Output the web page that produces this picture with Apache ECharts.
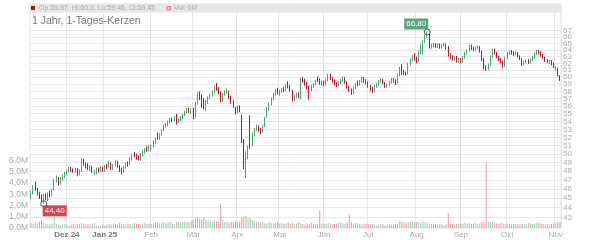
<!DOCTYPE html>
<html><head><meta charset="utf-8">
<script src="https://cdn.jsdelivr.net/npm/echarts@6/dist/echarts.min.js"></script>
<style>html,body{margin:0;padding:0;background:#fff}#c{width:600px;height:240px}</style>
</head><body><div id="c"></div>
<script>
// ---- categories: trading days (weekdays minus exchange holidays) ----
const holidays = ['2024-12-24','2024-12-25','2024-12-26','2024-12-31','2025-01-01','2025-04-18','2025-04-21','2025-05-01'];
function tradingDays(s, e, hol) {
  const out = [];
  const d = new Date(s + 'T12:00:00Z'), end = new Date(e + 'T12:00:00Z');
  while (d <= end) {
    const w = d.getUTCDay(), iso = d.toISOString().slice(0, 10);
    if (w !== 0 && w !== 6 && hol.indexOf(iso) < 0) out.push(iso);
    d.setUTCDate(d.getUTCDate() + 1);
  }
  return out;
}
const dates = tradingDays('2024-11-07', '2025-11-05', holidays);
const monthNames = ['Jan','Feb','Mär','Apr','Mai','Jun','Jul','Aug','Sep','Okt','Nov','Dez'];

// ---- series values (EUR), month by month ----
const open = [
 45.1,45.6,46.6,46.0,45.5,45.2,44.9,45.3,45.0,45.5,45.3,45.9,46.9,47.2,46.6,47.1,47.4,
 47.7,47.9,48.3,48.1,48.0,48.2,47.6,48.0,49.2,48.8,48.7,48.3,48.5,47.8,47.9,48.2,48.0,48.4,
 48.1,48.5,48.5,48.9,48.3,48.6,49.1,48.6,48.2,47.9,48.5,48.9,48.8,49.4,50.1,49.8,49.6,49.5,49.9,50.2,50.6,50.5,
 50.6,50.9,51.4,52.4,51.9,52.3,52.9,53.4,53.6,53.9,54.3,54.1,54.9,54.0,54.2,54.5,54.9,55.2,55.6,55.3,
 55.6,54.8,56.4,57.8,57.4,56.6,55.9,56.6,57.1,57.5,57.9,59.0,58.4,57.9,56.8,57.6,57.9,57.9,57.2,56.6,55.6,
 55.4,55.9,54.7,51.6,47.6,49.8,54.5,51.2,52.4,53.0,53.3,53.0,52.7,53.4,54.6,55.6,56.3,57.0,57.6,58.1,
 57.8,58.0,58.3,58.2,59.1,58.6,58.0,56.9,57.3,57.6,57.1,59.7,59.5,59.1,58.6,58.2,58.7,59.0,59.9,59.6,59.1,
 59.3,59.0,59.6,60.3,59.8,59.5,59.0,58.9,59.2,59.6,59.9,59.3,58.6,58.2,57.8,58.5,59.3,59.0,59.4,59.8,59.5,
 59.2,58.7,58.4,58.0,58.7,59.0,59.4,59.6,59.2,58.7,58.9,59.3,59.7,59.5,59.2,60.3,61.7,60.9,60.6,60.5,61.9,62.5,63.3,
 62.7,62.4,63.7,64.7,65.3,66.2,66.4,64.5,64.7,64.9,64.6,64.8,64.5,64.7,64.9,64.4,63.3,63.0,62.7,62.9,62.4,
 62.6,62.3,62.9,63.5,63.9,64.6,64.3,64.1,64.3,64.5,63.8,62.6,61.4,61.2,61.8,63.0,64.0,63.5,63.0,62.6,62.3,61.6,
 62.8,63.5,63.9,63.6,63.4,63.6,63.1,62.7,61.9,62.2,62.4,62.2,62.5,62.9,63.4,63.9,63.6,63.2,62.9,62.4,62.1,62.3,61.9,
 61.1,61.2,59.97
];
const close = [
 45.6,46.2,46.0,45.5,45.2,44.9,45.3,45.0,45.5,45.3,45.9,46.9,47.3,46.6,47.1,47.4,47.7,
 47.9,48.3,48.1,48.0,48.2,47.6,48.0,49.3,48.8,48.6,48.3,48.5,48.0,47.9,48.2,48.0,48.4,48.1,
 48.5,48.4,48.9,48.3,48.6,49.1,48.6,48.2,47.9,48.5,48.9,48.8,49.4,49.8,49.8,49.6,49.5,49.9,50.2,50.6,50.5,50.8,
 50.9,51.4,51.8,51.9,52.3,52.9,53.4,53.6,53.9,54.3,54.1,54.5,54.0,54.2,54.5,54.9,55.2,55.6,55.3,55.5,
 54.8,56.4,57.7,57.3,56.2,55.9,56.6,57.1,57.5,57.9,58.6,58.4,57.9,56.8,57.6,57.9,58.1,57.3,56.6,56.1,55.4,
 55.9,55.6,51.8,48.6,49.5,50.6,51.0,52.4,53.0,53.3,53.0,52.7,53.4,54.4,55.6,56.3,57.0,57.6,58.1,57.8,
 58.0,58.3,58.2,58.8,58.6,58.3,56.9,57.3,57.6,57.4,59.7,59.5,59.1,58.6,58.2,58.7,59.0,59.4,59.6,59.1,59.3,
 59.0,59.6,60.3,59.8,59.5,59.0,58.9,59.2,59.6,59.9,59.3,58.6,58.2,57.8,58.5,59.0,59.0,59.4,59.8,59.5,59.2,
 58.7,58.4,58.0,58.7,59.0,59.4,59.6,59.2,58.7,58.9,59.3,59.7,59.5,59.2,60.3,61.3,60.5,60.6,60.5,61.9,62.5,63.0,62.7,
 62.4,63.7,64.7,65.3,66.2,66.4,64.5,64.7,64.9,64.6,64.8,64.5,64.7,64.9,64.4,63.3,63.0,62.7,62.9,62.4,62.6,
 62.3,62.9,63.5,63.9,64.6,64.3,64.1,64.3,64.5,63.8,62.6,61.4,61.2,61.8,63.0,64.0,63.5,63.0,62.6,62.3,61.6,62.8,
 63.5,63.7,63.6,63.4,63.6,63.1,62.7,61.9,62.2,62.4,62.2,62.5,62.9,63.4,63.8,63.6,63.2,62.9,62.4,62.3,62.3,61.9,61.6,
 61.4,60.3,59.45
];
const low = [
 44.9,45.4,45.8,45.3,44.9,44.6,44.4,44.8,44.7,45.1,45.2,45.8,46.7,46.4,46.5,46.9,47.2,
 47.5,47.8,47.9,47.8,47.8,47.4,47.5,47.9,48.6,48.3,48.1,48.0,47.8,47.5,47.6,47.8,47.9,47.9,
 47.9,48.2,48.4,48.1,48.1,48.5,48.4,47.9,47.6,47.8,48.3,48.5,48.7,49.2,49.6,49.3,49.2,49.2,49.7,50.0,50.2,50.3,
 50.3,50.8,51.2,51.7,51.7,52.2,52.8,53.2,53.4,53.7,53.9,54.0,53.6,53.8,54.0,54.3,54.7,55.0,55.1,55.0,
 54.3,54.5,56.2,56.8,55.8,55.6,55.4,56.3,56.9,57.3,57.8,58.1,57.6,56.5,56.6,57.4,57.7,57.0,56.3,55.8,54.9,
 55.1,55.2,51.3,48.2,47.2,49.4,50.6,50.9,52.1,52.8,52.7,52.4,52.6,53.3,54.5,55.4,56.1,56.8,57.4,57.6,
 57.4,57.8,57.9,58.0,58.4,58.0,56.6,56.7,57.1,57.1,56.9,59.2,58.8,58.3,56.9,58.0,58.5,58.8,59.3,58.9,58.8,
 58.7,58.8,59.4,59.6,59.2,58.8,58.6,58.7,59.0,59.4,59.1,58.4,57.9,57.5,57.6,58.3,58.7,58.8,59.2,59.2,59.0,
 58.5,58.1,57.8,57.9,58.5,58.8,59.2,59.0,58.5,58.5,58.7,59.1,59.2,58.9,59.1,60.1,60.3,60.3,60.2,60.4,61.7,62.3,62.4,
 62.0,62.2,63.4,63.3,65.1,65.9,64.2,64.2,64.4,64.3,64.3,64.2,64.2,64.5,64.1,63.0,62.7,62.4,62.4,62.1,62.1,
 62.0,62.1,62.7,63.3,63.7,64.0,63.8,63.9,64.1,63.6,62.3,61.1,60.9,61.0,61.6,62.8,63.3,62.8,62.3,62.0,61.3,61.5,
 62.6,63.3,63.3,63.1,63.2,62.9,62.5,61.6,61.7,62.0,61.9,62.0,62.3,62.7,63.2,63.3,63.0,62.7,62.2,62.0,61.9,61.7,61.3,
 60.9,60.1,59.45
];
const high = [
 45.8,46.4,46.8,46.1,45.7,45.4,45.5,45.5,45.6,45.8,46.0,47.1,47.5,47.3,47.3,47.6,47.9,
 48.1,48.5,48.5,48.3,48.4,48.3,48.2,49.5,49.4,49.0,48.9,48.7,48.6,48.1,48.4,48.4,48.6,48.5,
 48.7,48.8,49.1,49.0,48.8,49.3,49.2,48.7,48.4,48.6,49.0,49.1,49.6,50.0,50.2,50.0,49.8,50.1,50.4,50.7,50.9,51.0,
 51.1,51.6,52.0,52.6,52.5,53.0,53.6,53.8,54.1,54.5,54.5,54.7,55.0,54.4,54.7,55.0,55.4,55.8,55.8,55.7,
 55.8,56.6,57.9,58.0,57.6,57.1,56.8,57.3,57.7,58.1,58.8,59.2,58.6,58.0,57.8,58.1,58.4,58.1,57.4,56.8,55.9,
 56.1,56.1,54.9,51.8,50.3,51.0,54.8,52.6,53.2,53.6,53.5,53.2,53.6,54.6,55.9,56.5,57.2,57.8,58.3,58.5,
 58.2,58.5,58.6,59.0,59.4,58.9,58.2,57.5,57.8,57.9,59.9,60.0,59.8,59.3,58.8,58.9,59.2,59.6,60.1,59.8,59.5,
 59.5,59.8,60.5,60.5,60.0,59.7,59.3,59.4,59.8,60.1,60.0,59.4,58.8,58.4,58.7,59.2,59.5,59.6,60.0,60.0,59.7,
 59.4,58.9,58.6,58.9,59.2,59.6,59.8,59.8,59.3,59.1,59.5,59.9,59.9,59.7,60.5,61.5,61.9,61.1,60.8,62.1,62.7,63.2,63.5,
 63.0,63.9,64.9,65.5,66.4,66.8,66.5,64.9,65.1,65.1,65.0,65.0,64.9,65.1,65.0,64.6,63.5,63.2,63.1,63.1,62.8,
 62.8,63.1,63.7,64.1,64.8,64.8,64.5,64.5,64.7,64.6,63.9,62.8,61.7,62.0,63.2,64.2,64.2,63.7,63.1,62.8,62.4,63.0,
 63.7,63.9,64.0,63.8,63.8,63.7,63.2,62.8,62.4,62.6,62.6,62.7,63.1,63.6,64.0,64.0,63.8,63.4,63.0,62.6,62.5,62.5,62.1,
 61.6,61.4,60.3
];
// volume in millions
const volume = [
 0.45,0.35,0.5,0.4,0.55,0.7,0.45,0.35,0.3,0.3,0.4,1.0,0.35,0.3,0.25,0.3,0.35,
 0.3,0.25,0.3,0.35,0.3,0.4,0.35,0.45,0.4,0.3,0.35,0.3,0.4,0.45,0.25,0.15,0.2,0.3,
 0.25,0.3,0.35,0.3,0.4,0.35,0.3,0.45,0.4,0.35,0.3,0.4,0.35,0.3,0.45,0.4,0.35,0.3,0.4,0.45,0.35,0.4,
 0.35,0.4,0.45,0.5,0.4,0.45,0.5,0.4,0.45,0.5,0.4,0.35,0.5,0.55,0.45,0.5,0.6,0.55,0.5,0.65,
 0.7,0.85,1.0,0.8,0.75,0.9,0.7,0.6,0.65,0.55,0.7,0.6,0.55,2.15,0.7,0.55,0.5,0.45,0.55,0.5,0.6,
 0.5,0.55,0.9,1.0,1.1,0.85,0.9,0.7,0.6,0.55,0.5,0.45,0.5,0.45,0.4,0.5,0.45,0.4,0.45,0.5,
 0.4,0.45,0.35,0.4,0.5,0.4,0.45,0.35,0.4,0.5,0.45,0.35,0.3,0.4,0.35,0.45,0.4,0.3,0.35,1.57,0.4,
 0.4,0.35,0.45,0.4,0.3,0.35,0.4,0.45,0.5,0.4,0.35,0.45,1.2,0.5,0.4,0.45,0.4,0.35,0.3,0.35,0.4,
 0.35,0.3,0.35,0.3,0.25,0.3,0.35,0.3,0.25,0.3,0.35,0.3,0.3,0.35,0.4,0.6,0.55,0.5,0.45,0.5,0.55,0.6,0.5,
 0.55,0.5,0.45,0.6,0.55,0.45,0.4,0.35,0.4,0.35,0.3,0.35,0.3,0.25,0.3,1.33,0.4,0.35,0.3,0.35,0.4,
 0.35,0.4,0.45,0.4,0.45,0.35,0.4,0.45,0.35,0.4,0.5,0.55,5.8,0.6,0.55,0.5,0.45,0.4,0.35,0.45,0.4,0.35,
 0.4,0.35,0.3,0.35,0.4,0.35,0.3,0.35,0.4,0.35,0.45,0.4,0.35,0.4,0.45,0.5,0.4,0.35,0.3,0.35,0.3,0.35,0.4,
 0.45,0.5,0.55
];
// tick labels (price ticks split in two interleaved sets so none is hidden)
const priceTicksEven = [44,46,48,50,52,54,56,58,60,62,64,66];
const priceTicksOdd = [43,45,47,49,51,53,55,57,59,61,63,65,67];
const volTicks = [0,1,2,3,4,5,6];

const FONT = '"Liberation Sans", Arial, sans-serif';
const UP = '#45a874', DOWN = '#c8102e';
const PMIN = 41.92, PMAX = 71.39, VMAX = 19.86;

const n = dates.length;
const candles = dates.map((d, i) => [open[i], close[i], low[i], high[i]]);
const volData = volume.map((v, i) => ({
  value: v,
  itemStyle: { color: close[i] >= open[i] ? 'rgba(100,185,140,0.7)' : 'rgba(230,110,130,0.72)' }
}));
const isStart = dates.map((d, i) => i > 0 && d.slice(5, 7) !== dates[i - 1].slice(5, 7));
const firstStart = isStart.indexOf(true);
let hiIdx = 0, loIdx = 0;
for (let i = 0; i < n; i++) { if (high[i] > high[hiIdx]) hiIdx = i; if (low[i] < low[loIdx]) loIdx = i; }
const fmtC = v => v.toFixed(2).replace('.', ',');
const last = n - 1;
const headerText = 'Op:' + open[last] + ', Hi:' + high[last] + ', Lo:' + low[last] + ', Cl:' + close[last];

function priceAxis(ticks) {
  return {
    type: 'log', logBase: 10, position: 'right', offset: 0, min: PMIN, max: PMAX,
    axisLine: { show: false }, axisTick: { show: false, customValues: ticks },
    axisLabel: { customValues: ticks, showMinLabel: true, showMaxLabel: true,
      formatter: v => String(Math.round(v)), fontSize: 8, color: '#aaa', margin: 2, fontFamily: FONT },
    splitLine: { show: true, lineStyle: { color: '#e8e8e8', width: 1 } }
  };
}

const chart = echarts.init(document.getElementById('c'), null, { renderer: 'canvas' });
chart.setOption({
  animation: false,
  textStyle: { fontFamily: FONT },
  grid: { left: 30, right: 39, top: 4, bottom: 12, show: true, borderColor: '#e2e2e2', borderWidth: 1, backgroundColor: 'rgba(0,0,0,0)' },
  xAxis: {
    type: 'category', data: dates, boundaryGap: true,
    axisLine: { show: false }, axisTick: { show: false },
    axisLabel: {
      interval: (i) => isStart[i], fontSize: 8, color: '#aaa', margin: 3, fontFamily: FONT,
      formatter: (val, idx) => {
        const m = +val.slice(5, 7);
        if (m === 1 || idx === firstStart) return '{b|' + monthNames[m - 1] + ' ' + val.slice(2, 4) + '}';
        return monthNames[m - 1];
      },
      rich: { b: { fontWeight: 'bold', color: '#777', fontSize: 8, fontFamily: FONT } }
    },
    splitLine: { show: true, interval: (i) => isStart[i], lineStyle: { color: '#e6e6e6', width: 1 } }
  },
  yAxis: [
    priceAxis(priceTicksEven),
    {
      type: 'value', position: 'left', min: 0, max: VMAX,
      axisLine: { show: false }, axisTick: { show: false, customValues: volTicks },
      axisLabel: { customValues: volTicks, showMinLabel: true, showMaxLabel: true,
        formatter: v => v.toFixed(1).replace('.', ',') + 'M', fontSize: 8.5, color: '#aaa', margin: 2, fontFamily: FONT },
      splitLine: { show: false }
    },
    priceAxis(priceTicksOdd)
  ],
  series: [
    { type: 'bar', xAxisIndex: 0, yAxisIndex: 1, data: volData, barWidth: 1, z: 1 },
    {
      type: 'candlestick', xAxisIndex: 0, yAxisIndex: 0, data: candles, barWidth: 1, z: 3,
      itemStyle: { color: UP, color0: DOWN, borderColor: UP, borderColor0: DOWN, borderWidth: 1 },
      markPoint: {
        data: [
          { coord: [hiIdx, high[hiIdx]], symbol: 'circle', symbolSize: 6,
            itemStyle: { color: 'rgba(255,255,255,0)', borderColor: '#555', borderWidth: 1 },
            label: { show: true, position: 'inside', offset: [-11, -8], formatter: fmtC(high[hiIdx]),
              backgroundColor: '#5fa37e', color: '#fff', padding: [2, 2, 1, 2], fontSize: 8, fontFamily: FONT } },
          { coord: [loIdx, low[loIdx]], symbol: 'circle', symbolSize: 6,
            itemStyle: { color: 'rgba(255,255,255,0)', borderColor: '#555', borderWidth: 1 },
            label: { show: true, position: 'inside', offset: [11, 7], formatter: fmtC(low[loIdx]),
              backgroundColor: '#d64550', color: '#fff', padding: [2, 2, 1, 2], fontSize: 8, fontFamily: FONT } }
        ]
      }
    },
    // empty series bound to the second price axis so it gets a scale
    { type: 'line', xAxisIndex: 0, yAxisIndex: 2, data: [], silent: true, showSymbol: false }
  ],
  graphic: [
    { type: 'rect', z: 100, shape: { x: 30, y: 4, width: 531, height: 8.5 }, style: { fill: '#e6e6e6' } },
    { type: 'rect', z: 101, shape: { x: 31, y: 6, width: 4, height: 4 }, style: { fill: '#a31515' } },
    { type: 'text', z: 101, x: 39, y: 8.4, style: { text: headerText, fontSize: 7, fill: '#aaa', verticalAlign: 'middle', fontFamily: FONT } },
    { type: 'rect', z: 101, shape: { x: 167, y: 6.5, width: 3.5, height: 3.5 }, style: { fill: '#f5c3ca', stroke: '#d97a88', lineWidth: 1 } },
    { type: 'text', z: 101, x: 174, y: 8.4, style: { text: 'Vol: ' + Math.floor(volume[last]) + 'M', fontSize: 7, fill: '#aaa', verticalAlign: 'middle', fontFamily: FONT } },
    { type: 'text', z: 101, x: 32, y: 21, style: { text: '1 Jahr, 1-Tages-Kerzen', fontSize: 10.5, fill: '#777', verticalAlign: 'middle', fontFamily: FONT } }
  ]
});
</script>
</body></html>
